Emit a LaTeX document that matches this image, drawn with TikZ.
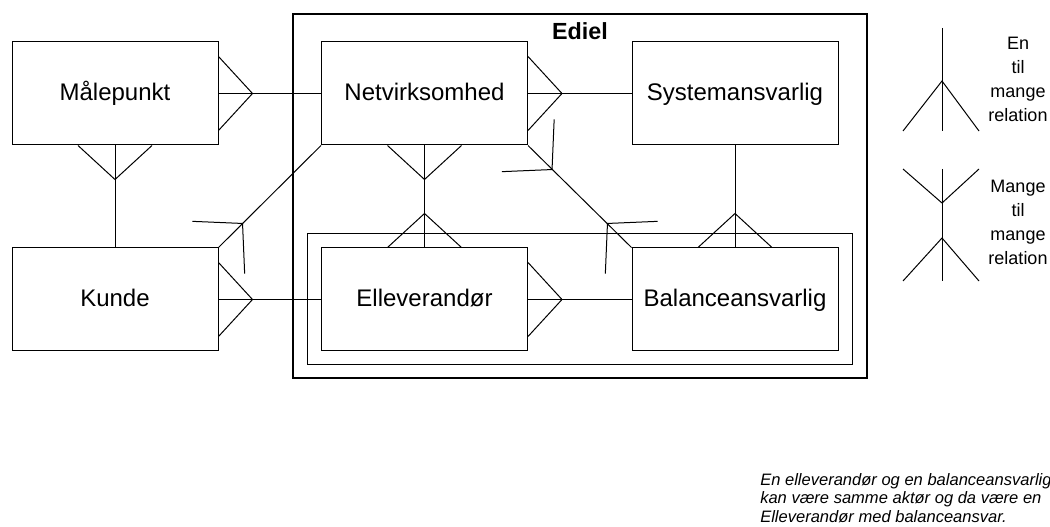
\documentclass[tikz,border=0pt]{standalone}
\usepackage{fontspec}
\setmainfont{Liberation Sans}
\usetikzlibrary{calc}
\newcommand\crowfoot[2]{\draw[conn] ($(#1)+(#2+90:37)$) -- ($(#1)+(#2:34)$) -- ($(#1)+(#2-90:37)$);}
\begin{document}
\begin{tikzpicture}[x=0.75pt,y=-0.75pt,
  ent/.style={draw, line width=0.75pt, minimum width=154.5pt, minimum height=77.25pt, inner sep=0pt, fill=white, text height=15pt, text depth=3.8pt, font=\fontsize{18}{22}\selectfont},
  conn/.style={line width=0.75pt},
  legtxt/.style={align=center, inner sep=0pt, font=\fontsize{13.5}{18}\selectfont}]
\clip (0,0) rectangle (1050,527);
% frames
\node[draw, line width=1.9pt, minimum width=430.5pt, minimum height=273pt, inner sep=0pt] (ediel) at (580,196) {};
\node[font=\bfseries\fontsize{17.5}{20}\selectfont, inner sep=0pt] (edieltxt) at (580,31) {Ediel};
\node[draw, line width=0.75pt, minimum width=408.75pt, minimum height=98.25pt, inner sep=0pt] (inner) at (579.5,299.5) {};
% entities
\node[ent] (mp) at (115,93.5) {Målepunkt};
\node[ent] (ku) at (115,299.5) {Kunde};
\node[ent] (nv) at (424.5,93.5) {Netvirksomhed};
\node[ent] (sy) at (735,93.5) {Systemansvarlig};
\node[ent] (el) at (424.5,299.5) {Elleverandør};
\node[ent] (ba) at (735,299.5) {Balanceansvarlig};
% connectors
\draw[conn] (mp.east) -- (nv.west);
\crowfoot{mp.east}{0}
\draw[conn] (mp.south) -- (ku.north);
\crowfoot{mp.south}{90}
\draw[conn] (ku.east) -- (el.west);
\crowfoot{ku.east}{0}
\draw[conn] (ku.north east) -- (nv.south west);
\crowfoot{ku.north east}{-45}
\draw[conn] (nv.east) -- (sy.west);
\crowfoot{nv.east}{0}
\draw[conn] (nv.south) -- (el.north);
\crowfoot{nv.south}{90}
\crowfoot{el.north}{-90}
\draw[conn] (nv.south east) -- (ba.north west);
\crowfoot{nv.south east}{45}
\crowfoot{ba.north west}{-135}
\draw[conn] (sy.south) -- (ba.north);
\crowfoot{ba.north}{-90}
\draw[conn] (el.east) -- (ba.west);
\crowfoot{el.east}{0}
% legend
\coordinate (l1t) at (942,28);
\coordinate (l1f) at (942,81);
\coordinate (l1b) at (942,131);
\coordinate (l1l) at (903,131);
\coordinate (l1r) at (979,131);
\draw[conn] (l1t) -- (l1b);
\draw[conn] (l1l) -- (l1f) -- (l1r);
\coordinate (l2t) at (942,169);
\coordinate (l2fa) at (942,203);
\coordinate (l2fb) at (942,238);
\coordinate (l2b) at (942,281);
\coordinate (l2tl) at (903,169);
\coordinate (l2tr) at (979,169);
\coordinate (l2bl) at (903,281);
\coordinate (l2br) at (979,281);
\draw[conn] (l2t) -- (l2b);
\draw[conn] (l2tl) -- (l2fa) -- (l2tr);
\draw[conn] (l2bl) -- (l2fb) -- (l2br);
\node[legtxt] (leg1) at (1018,79) {En\\til\\mange\\relation};
\node[legtxt] (leg2) at (1018,222) {Mange\\til\\mange\\relation};
% note
\node[anchor=north west, align=left, inner sep=0pt, font=\itshape\fontsize{12.4}{13.9}\selectfont] (note) at (760,473) {En elleverandør og en balanceansvarlig\\kan være samme aktør og da være en\\Elleverandør med balanceansvar.};
\end{tikzpicture}
\end{document}
